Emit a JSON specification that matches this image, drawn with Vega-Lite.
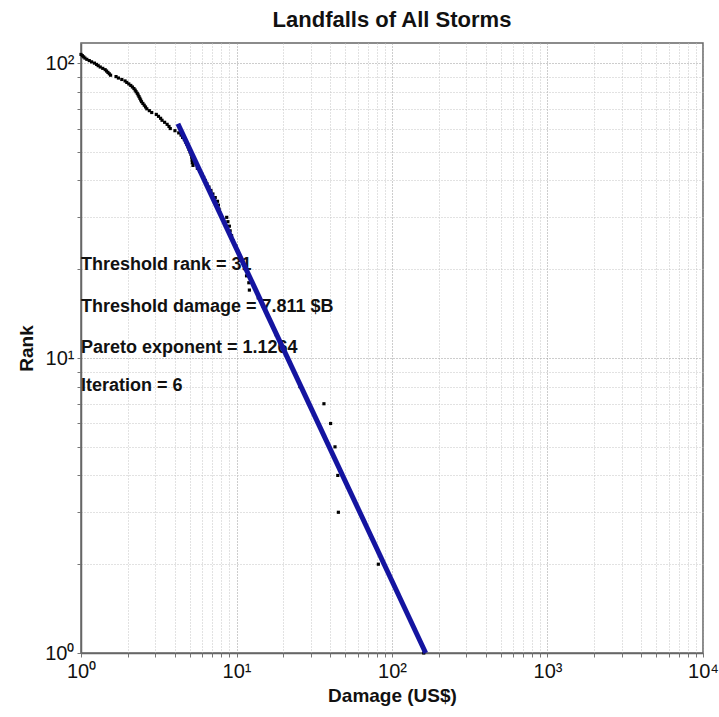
{
  "$schema": "https://vega.github.io/schema/vega-lite/v6.json",
  "width": 622,
  "height": 610,
  "autosize": {"type": "none"},
  "padding": {"left": 81, "top": 43, "right": 16, "bottom": 64},
  "background": "white",
  "config": {"font": "Liberation Sans", "view": {"stroke": "#666", "strokeWidth": 1.5}},
  "title": {"text": "Landfalls of All Storms", "fontSize": 22, "fontWeight": "bold", "color": "#111", "offset": 11},
  "datasets": {
    "storms": [
      {"rank": 107, "damage": 1.00}, {"rank": 106, "damage": 1.02}, {"rank": 105, "damage": 1.04}, {"rank": 104, "damage": 1.06},
      {"rank": 103, "damage": 1.09}, {"rank": 102, "damage": 1.13}, {"rank": 101, "damage": 1.17}, {"rank": 100, "damage": 1.22},
      {"rank": 99, "damage": 1.26}, {"rank": 98, "damage": 1.29}, {"rank": 97, "damage": 1.33}, {"rank": 96, "damage": 1.38},
      {"rank": 95, "damage": 1.43}, {"rank": 94, "damage": 1.46}, {"rank": 93, "damage": 1.49}, {"rank": 92, "damage": 1.52},
      {"rank": 91, "damage": 1.55}, {"rank": 90, "damage": 1.68}, {"rank": 89, "damage": 1.74}, {"rank": 88, "damage": 1.83},
      {"rank": 87, "damage": 1.92}, {"rank": 86, "damage": 1.97}, {"rank": 85, "damage": 2.03}, {"rank": 84, "damage": 2.09},
      {"rank": 83, "damage": 2.14}, {"rank": 82, "damage": 2.19}, {"rank": 81, "damage": 2.23}, {"rank": 80, "damage": 2.26},
      {"rank": 79, "damage": 2.30}, {"rank": 78, "damage": 2.33}, {"rank": 77, "damage": 2.36}, {"rank": 76, "damage": 2.39},
      {"rank": 75, "damage": 2.42}, {"rank": 74, "damage": 2.45}, {"rank": 73, "damage": 2.50}, {"rank": 72, "damage": 2.55},
      {"rank": 71, "damage": 2.60}, {"rank": 70, "damage": 2.65}, {"rank": 69, "damage": 2.75}, {"rank": 68, "damage": 2.85},
      {"rank": 67, "damage": 3.05}, {"rank": 66, "damage": 3.15}, {"rank": 65, "damage": 3.25}, {"rank": 64, "damage": 3.32},
      {"rank": 63, "damage": 3.45}, {"rank": 62, "damage": 3.58}, {"rank": 61, "damage": 3.68}, {"rank": 60, "damage": 3.75},
      {"rank": 59, "damage": 4.02}, {"rank": 58, "damage": 4.25}, {"rank": 57, "damage": 4.40}, {"rank": 56, "damage": 4.50},
      {"rank": 55, "damage": 4.62}, {"rank": 54, "damage": 4.70}, {"rank": 53, "damage": 4.80}, {"rank": 52, "damage": 4.88},
      {"rank": 51, "damage": 4.95}, {"rank": 50, "damage": 5.02}, {"rank": 49, "damage": 5.10}, {"rank": 48, "damage": 5.15},
      {"rank": 47, "damage": 5.18}, {"rank": 46, "damage": 5.20}, {"rank": 45, "damage": 5.25}, {"rank": 44, "damage": 5.60},
      {"rank": 43, "damage": 5.80}, {"rank": 42, "damage": 6.00}, {"rank": 41, "damage": 6.15}, {"rank": 40, "damage": 6.30},
      {"rank": 39, "damage": 6.45}, {"rank": 38, "damage": 6.65}, {"rank": 37, "damage": 6.85}, {"rank": 36, "damage": 7.05},
      {"rank": 35, "damage": 7.30}, {"rank": 34, "damage": 7.55}, {"rank": 33, "damage": 7.65}, {"rank": 32, "damage": 7.72},
      {"rank": 31, "damage": 7.811}, {"rank": 30, "damage": 8.65}, {"rank": 29, "damage": 8.80}, {"rank": 28, "damage": 9.00},
      {"rank": 27, "damage": 9.10}, {"rank": 26, "damage": 9.30}, {"rank": 25, "damage": 9.50}, {"rank": 24, "damage": 9.90},
      {"rank": 23, "damage": 10.2}, {"rank": 22, "damage": 10.6}, {"rank": 21, "damage": 11.0}, {"rank": 20, "damage": 11.4},
      {"rank": 19, "damage": 11.6}, {"rank": 18, "damage": 12.0}, {"rank": 17, "damage": 12.1}, {"rank": 16, "damage": 13.8},
      {"rank": 15, "damage": 14.8}, {"rank": 14, "damage": 15.8}, {"rank": 13, "damage": 16.9}, {"rank": 12, "damage": 18.0},
      {"rank": 11, "damage": 19.5}, {"rank": 10, "damage": 21.3}, {"rank": 9, "damage": 23.4}, {"rank": 8, "damage": 25.6},
      {"rank": 7, "damage": 36.5}, {"rank": 6, "damage": 40.3}, {"rank": 5, "damage": 43.0}, {"rank": 4, "damage": 44.8},
      {"rank": 3, "damage": 45.2}, {"rank": 2, "damage": 81.7}, {"rank": 1, "damage": 160}
    ],
    "fit": [
      {"damage": 4.2, "rank": 62.3},
      {"damage": 164.7, "rank": 1}
    ],
    "notes": [
      {"damage": 1, "rank": 20.7, "label": "Threshold rank =  31"},
      {"damage": 1, "rank": 14.9, "label": "Threshold damage =  7.811 $B"},
      {"damage": 1, "rank": 10.8, "label": "Pareto exponent = 1.1264"},
      {"damage": 1, "rank": 8.06, "label": "Iteration = 6"}
    ]
  },
  "layer": [
    {
      "data": {"name": "storms"},
      "mark": {"type": "point", "shape": "square", "filled": true, "size": 10, "color": "black", "opacity": 1},
      "encoding": {
        "x": {
          "field": "damage", "type": "quantitative",
          "scale": {"type": "log", "domain": [1, 10000], "nice": false},
          "axis": {
            "title": "Damage (US$)", "titleFontSize": 19, "titleFontWeight": "bold", "titleColor": "#111", "titlePadding": 5,
            "values": [1,2,3,4,5,6,7,8,9,10,20,30,40,50,60,70,80,90,100,200,300,400,500,600,700,800,900,1000,2000,3000,4000,5000,6000,7000,8000,9000,10000],
            "labelExpr": "datum.value == 1 ? '10⁰' : datum.value == 10 ? '10¹' : datum.value == 100 ? '10²' : datum.value == 1000 ? '10³' : datum.value == 10000 ? '10⁴' : ''",
            "labelFontSize": 20, "labelColor": "#111", "labelFlush": false, "labelOverlap": false, "labelPadding": 4,
            "grid": true, "gridDash": [1, 2],
            "gridColor": {"condition": {"test": "indexof([1,10,100,1000,10000], datum.value) >= 0", "value": "#9a9a9a"}, "value": "#c4c4c4"},
            "tickSize": 4, "tickColor": "#777", "domainColor": "#666", "domainWidth": 1.5
          }
        },
        "y": {
          "field": "rank", "type": "quantitative",
          "scale": {"type": "log", "domain": [1, 117], "nice": false},
          "axis": {
            "title": "Rank", "titleFontSize": 19, "titleFontWeight": "bold", "titleColor": "#111", "titlePadding": 8,
            "values": [1,2,3,4,5,6,7,8,9,10,20,30,40,50,60,70,80,90,100],
            "labelExpr": "datum.value == 1 ? '10⁰' : datum.value == 10 ? '10¹' : datum.value == 100 ? '10²' : ''",
            "labelFontSize": 20, "labelColor": "#111", "labelFlush": false, "labelOverlap": false, "labelPadding": 3,
            "grid": true, "gridDash": [1, 2],
            "gridColor": {"condition": {"test": "indexof([1,10,100], datum.value) >= 0", "value": "#9a9a9a"}, "value": "#c4c4c4"},
            "tickSize": 4, "tickColor": "#777", "domainColor": "#666", "domainWidth": 1.5
          }
        }
      }
    },
    {
      "data": {"name": "notes"},
      "mark": {"type": "text", "align": "left", "baseline": "middle", "fontSize": 18, "fontWeight": "bold", "color": "#111", "dx": 0},
      "encoding": {
        "x": {"field": "damage", "type": "quantitative"},
        "y": {"field": "rank", "type": "quantitative"},
        "text": {"field": "label"}
      }
    },
    {
      "data": {"name": "fit"},
      "mark": {"type": "line", "color": "#1414a0", "strokeWidth": 5},
      "encoding": {
        "x": {"field": "damage", "type": "quantitative"},
        "y": {"field": "rank", "type": "quantitative"}
      }
    }
  ]
}
